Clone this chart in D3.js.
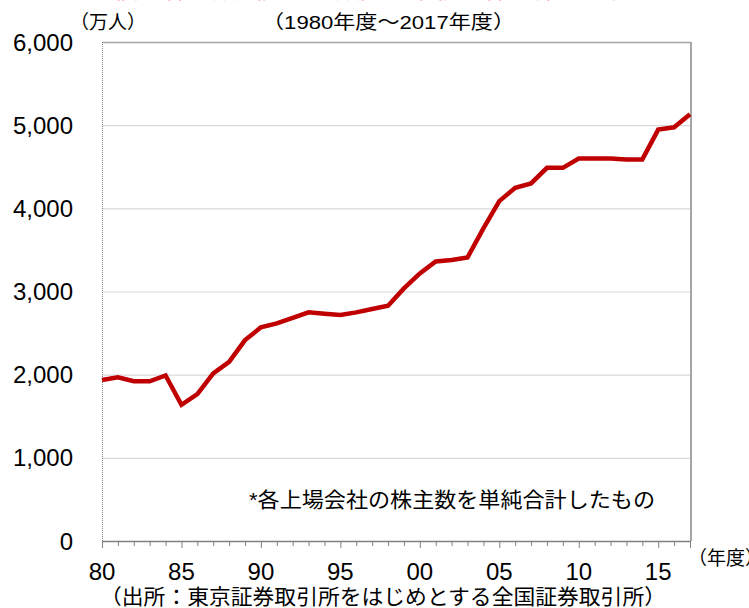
<!DOCTYPE html>
<html>
<head>
<meta charset="utf-8">
<script src="https://cdn.jsdelivr.net/npm/d3@7"></script>
<style>
  body { margin: 0; background: #fff; }
  svg { display: block; }
  text { font-family: "Liberation Sans", Arial, "Noto Sans CJK JP", sans-serif; fill: #000; }
  .jp { font-family: "Liberation Sans", "Noto Sans CJK JP", sans-serif; }
</style>
</head>
<body>
<svg width="749" height="608"></svg>
<script>
// fiscal years 1980-2017, individual shareholders (10k persons)
const years = d3.range(1980, 2018);
const holders = [
  1935, 1968, 1922, 1920, 1990, 1638, 1767, 2016, 2155, 2416,
  2569, 2617, 2684, 2749, 2732, 2717, 2749, 2789, 2828, 3037,
  3218, 3362, 3378, 3410, 3759, 4087, 4247, 4300, 4487, 4487,
  4599, 4600, 4600, 4588, 4588, 4947, 4975, 5130
];
const yTicks = [0, 1000, 2000, 3000, 4000, 5000, 6000];
const xLabelYears = [1980, 1985, 1990, 1995, 2000, 2005, 2010, 2015];

let plotLeft = 102, plotRight = 690, plotTop = 42, plotBottom = 541;

var svg = d3.select('svg');

// cut-off red heading at the very top
svg.append('text')
    .attr('class', 'jp')
    .attr('x', 114)
    .attr('y', -2.5)
    .attr('textLength', 542)
    .attr('lengthAdjust', 'spacingAndGlyphs')
    .style('font-size', '26px')
    .style('fill', '#ec6f99')
    .text('個人株主数（延べ人数）の推移と株式保有の状況');

var x = d3.scaleLinear().domain([1980, 2017]).range([plotLeft, plotRight]);
var y = d3.scaleLinear().domain([0, 6000]).range([plotBottom, plotTop]);

// gridlines
svg.append('g')
    .selectAll('line')
    .data(yTicks.filter(d => d > 0 && d < 6000))
    .enter()
    .append('line')
    .attr('x1', plotLeft)
    .attr('x2', plotRight)
    .attr('y1', d => y(d) + 0.5)
    .attr('y2', d => y(d) + 0.5)
    .attr('stroke', '#d9d9d9')
    .attr('stroke-width', 1.2);

// frame top / right
svg.append('line')
    .attr('x1', plotLeft).attr('x2', plotRight + 1)
    .attr('y1', plotTop + 0.5).attr('y2', plotTop + 0.5)
    .attr('stroke', '#a6a6a6').attr('stroke-width', 1.5);
svg.append('line')
    .attr('x1', plotRight + 1).attr('x2', plotRight + 1)
    .attr('y1', plotTop).attr('y2', plotBottom)
    .attr('stroke', '#a6a6a6').attr('stroke-width', 2);

// left axis (dotted)
svg.append('line')
    .attr('x1', plotLeft + 0.5).attr('x2', plotLeft + 0.5)
    .attr('y1', plotTop).attr('y2', plotBottom)
    .attr('stroke', '#808080').attr('stroke-width', 1)
    .attr('stroke-dasharray', '1,1');

// y labels
svg.append('g')
    .selectAll('text')
    .data(yTicks)
    .enter()
    .append('text')
    .attr('x', 73)
    .attr('y', d => y(d))
    .attr('dy', '0.36em')
    .attr('text-anchor', 'end')
    .style('font-size', '24px')
    .text(d => d3.format(',')(d));

// bottom axis
var xAxis = d3.axisBottom(x)
    .tickValues(years)
    .tickSize(5)
    .tickFormat('');
var xg = svg.append('g')
    .attr('transform', `translate(0, ${plotBottom})`)
    .call(xAxis);
xg.select('.domain')
    .attr('stroke', '#808080')
    .attr('stroke-width', 1.5)
    .attr('d', `M${plotLeft},0.5H${plotRight + 1}`);
xg.selectAll('.tick line')
    .attr('stroke', '#808080')
    .attr('y2', d => (d % 5 === 0 || d === 2017) ? 7 : 5);

// x labels
svg.append('g')
    .selectAll('text')
    .data(xLabelYears)
    .enter()
    .append('text')
    .attr('x', d => x(d))
    .attr('y', 580)
    .attr('text-anchor', 'middle')
    .style('font-size', '24px')
    .text(d => String(d % 100).padStart(2, '0'));

// line
var line = d3.line()
    .x((d, i) => x(years[i]))
    .y(d => y(d));

svg.append('path')
    .datum(holders)
    .attr('d', line)
    .attr('fill', 'none')
    .attr('stroke', '#c00000')
    .attr('stroke-width', 4.5)
    .attr('stroke-linejoin', 'miter');

// texts
svg.append('text')
    .attr('class', 'jp')
    .attr('x', 70).attr('y', 29)
    .style('font-size', '19px')
    .text('（万人）');

svg.append('text')
    .attr('class', 'jp')
    .attr('x', 262).attr('y', 29)
    .attr('textLength', 253)
    .attr('lengthAdjust', 'spacingAndGlyphs')
    .style('font-size', '19px')
    .text('（1980年度～2017年度）');

svg.append('text')
    .attr('class', 'jp')
    .attr('x', 688).attr('y', 565)
    .style('font-size', '19px')
    .text('（年度）');

svg.append('text')
    .attr('class', 'jp')
    .attr('x', 249).attr('y', 507)
    .attr('textLength', 406)
    .attr('lengthAdjust', 'spacingAndGlyphs')
    .style('font-size', '21px')
    .text('*各上場会社の株主数を単純合計したもの');

svg.append('text')
    .attr('class', 'jp')
    .attr('x', 100).attr('y', 604)
    .attr('textLength', 566)
    .attr('lengthAdjust', 'spacingAndGlyphs')
    .style('font-size', '21px')
    .text('（出所：東京証券取引所をはじめとする全国証券取引所）');
</script>
</body>
</html>
